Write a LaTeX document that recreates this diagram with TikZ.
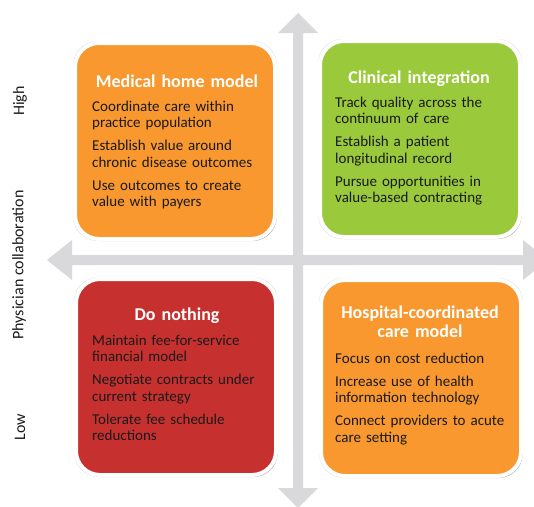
\documentclass[tikz,border=0pt]{standalone}
\usepackage{fontspec}
\setmainfont{Carlito}
\usetikzlibrary{shadows}
\definecolor{cOrange}{HTML}{F8982F}
\definecolor{cGreen}{HTML}{9ACA3C}
\definecolor{cRed}{HTML}{C6312F}
\definecolor{cAxis}{HTML}{D9D9DC}
\definecolor{cText}{HTML}{1A1A1A}
\begin{document}
\begin{tikzpicture}[x=1pt,y=-1pt,
  quad/.style={rectangle, rounded corners=24pt, draw=white, line width=4pt,
    minimum width=200pt, minimum height=196pt, inner sep=0pt,
    general shadow={shadow scale=1.02, fill=black, opacity=0.12},
    drop shadow={shadow xshift=1.5pt, shadow yshift=-2pt, fill=black, opacity=0.28}},
  ttl/.style={anchor=base, text=white, font=\fontsize{18}{19.8}\selectfont\bfseries,
    text width=200pt, align=center, inner sep=0pt},
  body/.style={anchor=base west, text=cText, font=\fontsize{15}{16.4}\selectfont,
    text width=185pt, align=left, inner sep=0pt},
  axislabel/.style={rotate=90, text=cText, font=\fontsize{16}{18}\selectfont, inner sep=0pt}
]
\useasboundingbox (0,0) rectangle (534,506);
\fill[white] (0,0) rectangle (534,506);
\clip (0,0) rectangle (534,506);

% axes
\fill[cAxis] (298,13) -- (318,33) -- (303,33) -- (303,488) -- (318,488) -- (298,508)
  -- (278,488) -- (293,488) -- (293,33) -- (278,33) -- cycle;
\fill[cAxis] (47,260) -- (72,240) -- (72,255) -- (523,255) -- (523,240) -- (548,260)
  -- (523,280) -- (523,265) -- (72,265) -- (72,280) -- cycle;

% quadrant boxes
\node[quad, fill=cOrange] (mh) at (175,141) {};
\node[quad, fill=cGreen]  (ci) at (420,139) {};
\node[quad, fill=cRed]    (dn) at (176,377) {};
\node[quad, fill=cOrange] (hc) at (421,378) {};

% titles
\node[ttl] (mhT) at (177,87) {Medical home model};
\node[ttl] (ciT) at (419,83) {Clinical integration};
\node[ttl] (dnT) at (177,320) {Do nothing};
\node[ttl] (hcT) at (420,318) {Hospital-coordinated\\care model};

% bodies
\node[body] (mhB) at (92,111.5) {Coordinate care within\\practice population\\[6.6pt]
  Establish value around\\chronic disease outcomes\\[6.6pt]
  Use outcomes to create\\value with payers};
\node[body] (ciB) at (335,107.5) {Track quality across the\\continuum of care\\[6.6pt]
  Establish a patient\\longitudinal record\\[6.6pt]
  Pursue opportunities in\\value-based contracting};
\node[body] (dnB) at (92,345.5) {Maintain fee-for-service\\financial model\\[6.6pt]
  Negotiate contracts under\\current strategy\\[6.6pt]
  Tolerate fee schedule\\reductions};
\node[body] (hcB) at (335,363.5) {Focus on cost reduction\\[6.6pt]
  Increase use of health\\information technology\\[6.6pt]
  Connect providers to acute\\care setting};

% axis labels
\node[axislabel] (high) at (20,101) {High};
\node[axislabel] (pc) at (19,265) {Physician collaboration};
\node[axislabel] (low) at (20,427) {Low};
\end{tikzpicture}
\end{document}
